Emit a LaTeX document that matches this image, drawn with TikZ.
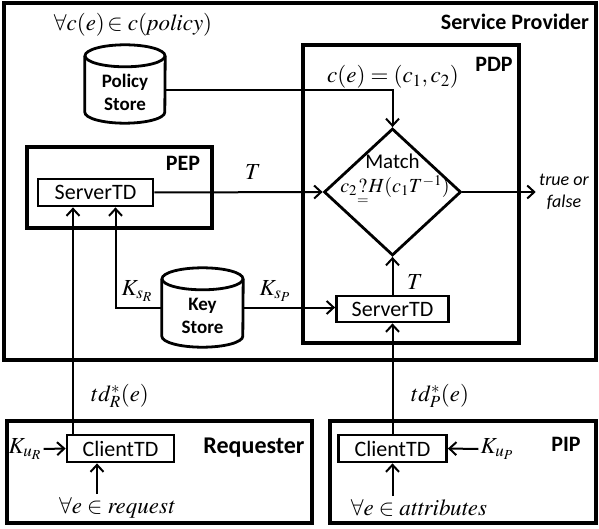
\documentclass[tikz,border=0pt]{standalone}
\usepackage{amsmath}
\usepackage{mathptmx}
\usepackage[no-math]{fontspec}
\setmainfont{Carlito}
\usetikzlibrary{shapes.geometric,arrows.meta,positioning,calc}

\begin{document}
\begin{tikzpicture}[
    x=1pt, y=-1pt,
    area/.style={rectangle, draw, line width=3.5pt, inner sep=0pt},
    tdbox/.style={rectangle, draw, line width=2.8pt, minimum height=27pt, inner sep=0pt, font=\fontsize{22}{26}\selectfont},
    store/.style={rectangle, minimum width=80pt, minimum height=78pt, inner sep=0pt},
    storeline/.style={line width=2.8pt},
    storetxt/.style={align=center, font=\fontsize{19}{23}\selectfont\bfseries},
    decisionbox/.style={diamond, draw, line width=2.8pt, inner sep=0pt, minimum width=137pt, minimum height=127pt},
    title/.style={font=\fontsize{22}{26}\selectfont\bfseries},
    lbl/.style={font=\fontsize{23}{27}\selectfont},
    arrow/.style={-{Straight Barb[length=7pt,width=13pt]}, line width=2pt}
]
\useasboundingbox (0,0) rectangle (599,529);

\node[area, line width=4pt, minimum width=592pt, minimum height=357pt] (sp) at (300,181.5) {};
\node[area, minimum width=185pt, minimum height=81pt] (pep) at (119.5,187.5) {};
\node[area, minimum width=216pt, minimum height=298pt] (pdp) at (411,194) {};
\node[area, line width=4pt, minimum width=305pt, minimum height=102pt] (req) at (159.5,472) {};
\node[area, line width=4pt, minimum width=266pt, minimum height=102pt] (pip) at (463,472) {};

\node[title] (splab) at (515,22) {Service Provider};
\node[title] (pdplab) at (494,64) {PDP};
\node[title] (peplab) at (183,163) {PEP};
\node[title, font=\fontsize{24}{28}\selectfont\bfseries] (reqlab) at (254,448) {Requester};
\node[title] (piplab) at (566,444) {PIP};

% data stores
\node[store] (policy) at (125,84) {};
\node[store, minimum width=81pt, minimum height=79pt] (keystore) at (202.5,307.5) {};
\foreach \s/\r in {policy/40pt, keystore/40.5pt} {
    \draw[storeline] ([yshift=-11pt]\s.north west) -- ([yshift=11pt]\s.south west)
        arc[start angle=180, end angle=360, x radius=\r, y radius=11pt] -- ([yshift=-11pt]\s.north east);
    \draw[storeline] ([yshift=-11pt]\s.north) ellipse[x radius=\r, y radius=11pt];
}
\node[storetxt] (policytxt) at ([yshift=-8pt]policy.center) {Policy\\Store};
\node[storetxt] (keytxt) at ([yshift=-8pt]keystore.center) {Key\\Store};

\node[tdbox, minimum width=115pt] (srvpep) at (95.5,192.5) {ServerTD};
\node[tdbox, minimum width=112pt, minimum height=26pt] (srvpdp) at (392.5,309) {ServerTD};
\node[tdbox, minimum width=107pt] (clireq) at (120.5,448.5) {ClientTD};
\node[tdbox, minimum width=108pt] (clipip) at (392.5,448.5) {ClientTD};
\node[decisionbox] (match) at (392.5,192) {};
\node[inner sep=0pt, font=\fontsize{21}{25}\selectfont] (matchtxt) at (392.5,161) {Match};
\node[inner sep=0pt, font=\fontsize{20}{24}\selectfont] (matchfor) at (395,191) {$c_2\underset{=}{?}H(c_1T^{-1})$};

\node[lbl] (polfor) at (133,25) {$\forall c(e)\!\in c(\mathit{policy})$};
\node[lbl] (cfor) at (393,77) {$c(e)=(c_1,c_2)$};
\node[lbl] (tpep) at (253,172) {$T$};
\node[lbl] (ksr) at (137,291) {$K_{s_R}$};
\node[lbl] (ksp) at (275,291) {$K_{s_P}$};
\node[lbl] (tpdp) at (415,282) {$T$};
\node[lbl] (tdr) at (120,396) {$td_R^*(e)$};
\node[lbl] (tdp) at (440,396) {$td_P^*(e)$};
\node[lbl, inner sep=2pt] (kur) at (25,449) {$K_{u_R}$};
\node[lbl, inner sep=2pt] (kup) at (497,449) {$K_{u_P}$};
\node[lbl] (reqfor) at (117,508) {$\forall e\in \mathit{request}$};
\node[lbl] (attrfor) at (419,508) {$\forall e\in \mathit{attributes}$};
\node[align=center, font=\fontsize{18}{22}\selectfont\itshape] (tf) at (564,192) {true or\\false};

\draw[arrow] ([yshift=-6pt]policy.east) -| (match.north);
\draw[arrow] (srvpep.east) -- (match.west);
\draw[arrow] (keystore.west) -| ([xshift=20pt]srvpep.south);
\draw[arrow] (keystore.east) -- (keystore.east -| srvpdp.west);
\draw[arrow] (srvpdp.north) -- (match.south);
\draw[arrow] (match.east) -- (tf.west);
\draw[arrow] ([xshift=-47.5pt]clireq.north) -- ([xshift=-47.5pt]clireq.north |- srvpep.south);
\draw[arrow] (clipip.north) -- (srvpdp.south);
\draw[arrow] (kur.east) -- (clireq.west);
\draw[arrow] (kup.west) -- (clipip.east);
\draw[arrow] ([xshift=-23.5pt]clireq.south |- reqfor.north) -- ([xshift=-23.5pt]clireq.south);
\draw[arrow] (attrfor.north -| clipip.south) -- (clipip.south);

\end{tikzpicture}
\end{document}
